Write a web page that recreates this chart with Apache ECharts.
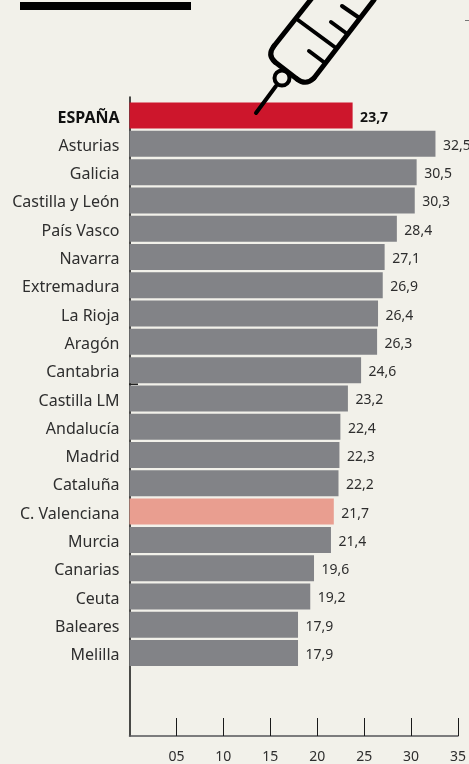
<!DOCTYPE html>
<html>
<head>
<meta charset="utf-8">
<style>
  html, body { margin: 0; padding: 0; background: #f2f1ea; }
  #chart { width: 469px; height: 764px; }
</style>
<script src="https://cdn.jsdelivr.net/npm/echarts@6/dist/echarts.min.js"></script>
</head>
<body>
<div id="chart"></div>
<script>
// datos
var categories = ["ESPAÑA", "Asturias", "Galicia", "Castilla y León", "País Vasco", "Navarra", "Extremadura", "La Rioja", "Aragón", "Cantabria", "Castilla LM", "Andalucía", "Madrid", "Cataluña", "C. Valenciana", "Murcia", "Canarias", "Ceuta", "Baleares", "Melilla"];
var values = [23.7, 32.5, 30.5, 30.3, 28.4, 27.1, 26.9, 26.4, 26.3, 24.6, 23.2, 22.4, 22.3, 22.2, 21.7, 21.4, 19.6, 19.2, 17.9, 17.9];
var tickLabels = { 5: "05", 10: "10", 15: "15", 20: "20", 25: "25", 30: "30", 35: "35" };

var font = "Noto Sans";
var textColor = "#2e2e2e";
var colors = { "ESPAÑA": "#cd162c", "C. Valenciana": "#e99e90" };

var chart = echarts.init(document.getElementById("chart"), null, { renderer: "canvas" });

var line = function(x1, y1, x2, y2, w) {
  return {
    type: "line",
    z: 100,
    shape: { x1: x1, y1: y1, x2: x2, y2: y2 },
    style: { stroke: "#000", lineWidth: w, lineCap: "round" }
  };
};
var curve = function(x1, y1, cx, cy, x2, y2, w) {
  return {
    type: "bezierCurve",
    z: 100,
    shape: { x1: x1, y1: y1, cpx1: cx, cpy1: cy, x2: x2, y2: y2 },
    style: { stroke: "#000", fill: "none", lineWidth: w, lineCap: "round" }
  };
};

chart.setOption({
  backgroundColor: "#f2f1ea",
  animation: false,
  grid: [
    // barras
    { left: 129.5, top: 101.4, width: 329.5, height: 565.8 },
    // eje de abajo y linea vertical
    { left: 129.5, top: 97, width: 329.5, height: 641 }
  ],
  xAxis: [
    { gridIndex: 0, type: "value", min: 0, max: 35, show: false },
    {
      gridIndex: 1,
      type: "value",
      min: 0,
      max: 35,
      interval: 5,
      splitLine: { show: false },
      axisLine: { show: true, lineStyle: { color: "#55555a", width: 1.5 } },
      axisTick: { show: true, inside: true, length: 18, lineStyle: { color: "#1a1a1a", width: 1 } },
      axisLabel: {
        margin: 14,
        fontFamily: font,
        fontSize: 14,
        color: textColor,
        showMinLabel: false,
        hideOverlap: false,
        formatter: function(v) { return tickLabels[v] || ""; }
      }
    }
  ],
  yAxis: [
    {
      gridIndex: 0,
      type: "category",
      inverse: true,
      data: categories,
      axisLine: { show: false },
      axisTick: { show: false },
      axisLabel: {
        margin: 10,
        fontFamily: font,
        fontSize: 16,
        color: textColor,
        padding: [5, 0, 0, 0],
        formatter: function(v) {
          return v === "ESPAÑA" ? "{b|" + v + "}" : v;
        },
        rich: {
          b: { fontFamily: font, fontSize: 16, fontWeight: "bold", color: "#111" }
        }
      }
    },
    {
      gridIndex: 1,
      type: "value",
      min: 0,
      max: 1,
      axisLabel: { show: false },
      axisTick: { show: false },
      splitLine: { show: false },
      axisLine: { show: true, onZero: false, lineStyle: { color: "#111", width: 1.5 } }
    }
  ],
  series: [
    {
      // solo para que se pinte el eje
      type: "line",
      xAxisIndex: 1,
      yAxisIndex: 1,
      data: [],
      silent: true
    },
    {
      type: "bar",
      xAxisIndex: 0,
      yAxisIndex: 0,
      z: 5,
      barWidth: 26,
      data: values.map(function(v, i) {
        var name = categories[i];
        return {
          value: v,
          itemStyle: { color: colors[name] || "#828387" },
          label: name === "ESPAÑA" ? { fontWeight: "bold", color: "#111" } : {}
        };
      }),
      label: {
        show: true,
        position: "right",
        distance: 7.5,
        offset: [0, 2],
        fontFamily: font,
        fontSize: 14,
        color: textColor,
        formatter: function(p) {
          return String(p.value).replace(".", ",");
        }
      }
    }
  ],
  graphic: [
    // barra negra de arriba
    { type: "rect", z: 100, shape: { x: 20, y: 2, width: 171, height: 8 }, style: { fill: "#000" } },
    // marca suelta arriba a la derecha
    { type: "rect", z: 100, shape: { x: 465, y: 20, width: 4, height: 1 }, style: { fill: "#777" } },
    // marca sobre el eje junto a Cantabria
    { type: "rect", z: 100, shape: { x: 129, y: 383.5, width: 9, height: 1.5 }, style: { fill: "#222" } },
    // jeringuilla
    line(256, 113, 276, 86, 4),
    {
      type: "circle",
      z: 100,
      shape: { cx: 282, cy: 78, r: 7.5 },
      style: { fill: "#f2f1ea", stroke: "#000", lineWidth: 4 }
    },
    line(312, -2, 274, 46, 5),
    curve(274, 46, 267, 55, 275, 62, 5),
    line(275, 62, 297, 79, 5),
    curve(297, 79, 306, 86, 314, 78, 5),
    line(314, 78, 374, 0, 5),
    line(298, 20, 336, 48, 4),
    line(309, 51, 325, 63, 4),
    line(331, 22, 346, 33, 4),
    line(342, 6, 358, 17, 4)
  ]
});
</script>
</body>
</html>
